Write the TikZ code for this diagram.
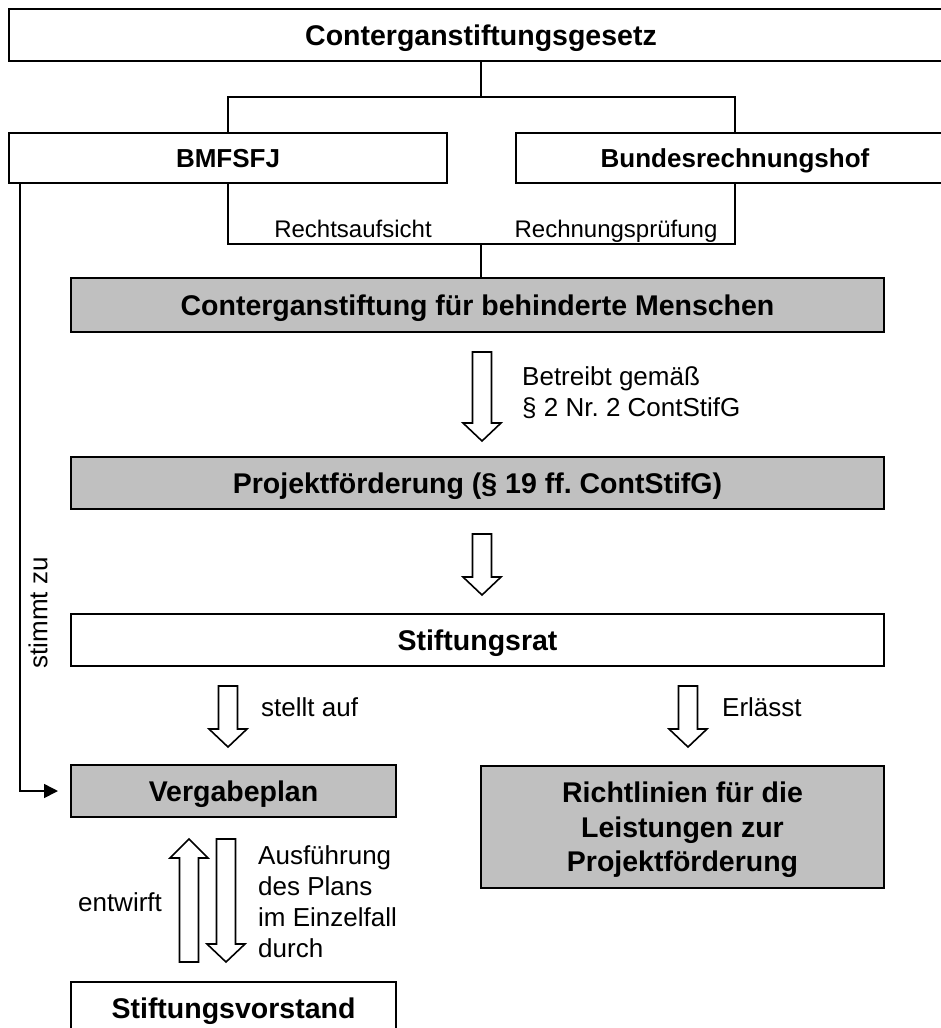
\documentclass[tikz,border=0pt]{standalone}
\usepackage{fontspec}
\setmainfont{Liberation Sans}
\usetikzlibrary{arrows.meta}
\frenchspacing
\definecolor{boxgray}{RGB}{192,192,192}
\tikzset{
  boxbase/.style={draw=black, line width=2pt, inner sep=0pt, align=center,
    font=\fontsize{28.5}{34.5}\selectfont\bfseries},
  box/.style={boxbase, text height=27pt, text depth=5.7pt},
  midbox/.style={boxbase, font=\fontsize{26}{31}\selectfont\bfseries, text height=24.7pt, text depth=5.2pt},
  graybox/.style={box, fill=boxgray},
  graymulti/.style={boxbase, fill=boxgray},
  conn/.style={draw=black, line width=1.6pt},
  lblbase/.style={inner sep=0pt, font=\fontsize{26}{31}\selectfont},
  lbl/.style={lblbase, text height=24.7pt, text depth=5.2pt},
  smalllbl/.style={inner sep=0pt, font=\fontsize{24}{29}\selectfont, text height=22.8pt, text depth=4.8pt},
  blockarrow/.style={draw=black, line width=1.6pt, fill=white, line join=miter},
}
\newcommand\blockdown[3]{% x, ytop, ytip
  \draw[blockarrow] ({#1-9.5},{#2}) -- ({#1+9.5},{#2}) -- ({#1+9.5},{#3-18}) -- ({#1+19},{#3-18})
    -- ({#1},{#3}) -- ({#1-19},{#3-18}) -- ({#1-9.5},{#3-18}) -- cycle;}
\newcommand\blockup[3]{% x, ybottom, ytip
  \draw[blockarrow] ({#1-9.5},{#2}) -- ({#1+9.5},{#2}) -- ({#1+9.5},{#3+19}) -- ({#1+19},{#3+19})
    -- ({#1},{#3}) -- ({#1-19},{#3+19}) -- ({#1-9.5},{#3+19}) -- cycle;}
\begin{document}
\begin{tikzpicture}[x=1pt, y=-1pt]
\useasboundingbox (0,0) rectangle (941,1028);
% boxes
\node[box, minimum width=944pt, minimum height=52pt] (gesetz) at (481,35) {Conterganstiftungsgesetz};
\node[midbox, minimum width=438pt, minimum height=50pt] (bmfsfj) at (228,158) {BMFSFJ};
\node[midbox, minimum width=438pt, minimum height=50pt] (brh) at (735,158) {Bundesrechnungshof};
\node[graybox, minimum width=813pt, minimum height=54pt] (contergan) at (477.5,305) {Conterganstiftung für behinderte Menschen};
\node[graybox, minimum width=813pt, minimum height=52pt] (projekt) at (477.5,483) {Projektförderung (§ 19 ff. ContStifG)};
\node[box, minimum width=813pt, minimum height=52pt] (rat) at (477.5,640) {Stiftungsrat};
\node[graybox, minimum width=325pt, minimum height=52pt] (vergabe) at (233.5,791) {Vergabeplan};
\node[graymulti, minimum width=403pt, minimum height=122pt] (richt) at (682.5,827) {\rule{0pt}{26.5pt}Richtlinien für die\\Leistungen zur\\Projektförderung};
\node[box, minimum width=325pt, minimum height=52pt] (vorstand) at (233.5,1008) {Stiftungsvorstand};
% connectors top
\coordinate (j1) at (481,97);
\coordinate (j2) at (481,244);
\draw[conn] (gesetz.south -| j1) -- (j1);
\draw[conn] (bmfsfj.north) |- (j1) -| (brh.north);
\draw[conn] (bmfsfj.south) |- (j2) -| (brh.south);
\draw[conn] (j2) -- (contergan.north -| j2);
\node[smalllbl] (recht) at (353,228) {Rechtsaufsicht};
\node[smalllbl] (rechn) at (616,228) {Rechnungsprüfung};
% stimmt zu
\coordinate (sz) at ([xshift=12pt]bmfsfj.south west);
\draw[conn, -{Triangle[length=14pt,width=14pt]}] (sz) |- ([xshift=-12pt]vergabe.west);
\node[lbl, rotate=90] (stimmt) at (37.5,613) {stimmt zu};
% block arrows
\blockdown{482}{352}{441}
\node[lblbase, anchor=west, align=left] (betreibt) at (522,393) {Betreibt gemäß\\§ 2 Nr. 2 ContStifG};
\blockdown{482}{534}{595}
\blockdown{228}{686}{747}
\node[lbl, anchor=west] (stellt) at (261,707) {stellt auf};
\blockdown{688}{686}{747}
\node[lbl, anchor=west] (erl) at (722,707) {Erlässt};
\blockup{189}{962}{839}
\blockdown{226}{839}{962}
\node[lbl] (entw) at (120,902) {entwirft};
\node[lblbase, anchor=west, align=left] (ausf) at (258,902) {Ausführung\\des Plans\\im Einzelfall\\durch};
\end{tikzpicture}
\end{document}
